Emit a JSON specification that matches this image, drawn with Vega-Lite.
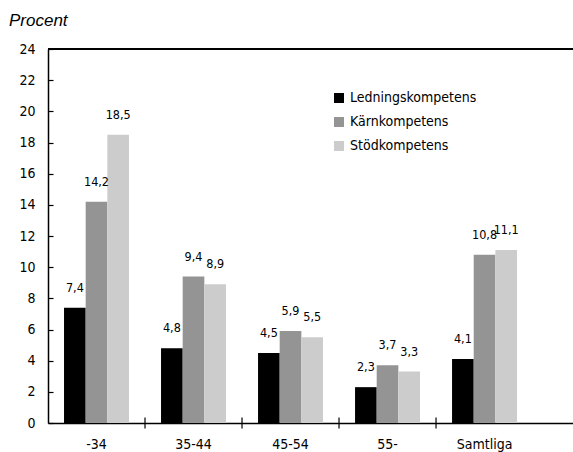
{
  "$schema": "https://vega.github.io/schema/vega-lite/v6.json",
  "width": 525,
  "height": 374,
  "autosize": {"type": "none"},
  "padding": {"left": 48, "top": 49, "right": 0, "bottom": 29},
  "title": {"text": "Procent", "anchor": "start", "frame": "group", "dx": -39, "offset": -1, "baseline": "alphabetic", "font": "Liberation Sans", "fontStyle": "italic", "fontWeight": "normal", "fontSize": 17, "color": "#000000"},
  "config": {
    "locale": {"number": {"decimal": ",", "thousands": " ", "grouping": [3], "currency": ["", ""]}},
    "view": {"stroke": null},
    "font": "DejaVu Sans Condensed",
    "axisY": {"title": null, "values": [0, 2, 4, 6, 8, 10, 12, 14, 16, 18, 20, 22, 24], "labelOverlap": false, "grid": false, "domainColor": "#000000", "domainWidth": 1.5, "tickColor": "#000000", "tickWidth": 1.2, "tickSize": -5, "labelColor": "#000000", "labelFontSize": 14, "labelPadding": 18}
  },
  "data": {
    "values": [
      {"grupp": "-34", "kompetens": "Ledningskompetens", "procent": 7.4},
      {"grupp": "-34", "kompetens": "Kärnkompetens", "procent": 14.2},
      {"grupp": "-34", "kompetens": "Stödkompetens", "procent": 18.5},
      {"grupp": "35-44", "kompetens": "Ledningskompetens", "procent": 4.8},
      {"grupp": "35-44", "kompetens": "Kärnkompetens", "procent": 9.4},
      {"grupp": "35-44", "kompetens": "Stödkompetens", "procent": 8.9},
      {"grupp": "45-54", "kompetens": "Ledningskompetens", "procent": 4.5},
      {"grupp": "45-54", "kompetens": "Kärnkompetens", "procent": 5.9},
      {"grupp": "45-54", "kompetens": "Stödkompetens", "procent": 5.5},
      {"grupp": "55-", "kompetens": "Ledningskompetens", "procent": 2.3},
      {"grupp": "55-", "kompetens": "Kärnkompetens", "procent": 3.7},
      {"grupp": "55-", "kompetens": "Stödkompetens", "procent": 3.3},
      {"grupp": "Samtliga", "kompetens": "Ledningskompetens", "procent": 4.1},
      {"grupp": "Samtliga", "kompetens": "Kärnkompetens", "procent": 10.8},
      {"grupp": "Samtliga", "kompetens": "Stödkompetens", "procent": 11.1}
    ]
  },
  "layer": [
    {
      "mark": {"type": "bar"},
      "encoding": {
        "x": {"field": "grupp", "type": "nominal", "sort": ["-34", "35-44", "45-54", "55-", "Samtliga"],
          "scale": {"paddingInner": 0, "paddingOuter": 0.206, "align": 0},
          "axis": {"title": null, "labelAngle": 0, "ticks": false, "domainColor": "#000000", "domainWidth": 1.5, "labelColor": "#000000", "labelFontSize": 14, "labelPadding": 14}},
        "xOffset": {"field": "kompetens", "type": "nominal", "sort": ["Ledningskompetens", "Kärnkompetens", "Stödkompetens"],
          "scale": {"paddingInner": 0, "paddingOuter": 0.74}},
        "y": {"field": "procent", "type": "quantitative", "scale": {"domain": [0, 24]},
          "axis": {"values": [0, 2, 4, 6, 8, 10, 12, 14, 16, 18, 20, 22, 24]}},
        "color": {"field": "kompetens", "type": "nominal", "sort": ["Ledningskompetens", "Kärnkompetens", "Stödkompetens"],
          "scale": {"domain": ["Ledningskompetens", "Kärnkompetens", "Stödkompetens"], "range": ["#000000", "#949494", "#cccccc"]},
          "legend": {"title": null, "orient": "none", "legendX": 284, "legendY": 42, "symbolType": "square", "symbolSize": 100, "symbolStrokeWidth": 0, "symbolOpacity": 1, "labelFontSize": 14, "labelColor": "#000000", "labelOffset": 4, "rowPadding": 10, "padding": 0}}
      }
    },
    {
      "mark": {"type": "text", "baseline": "bottom", "dy": -13, "fontSize": 12.5, "letterSpacing": -0.8, "color": "#000000"},
      "encoding": {
        "x": {"field": "grupp", "type": "nominal", "sort": ["-34", "35-44", "45-54", "55-", "Samtliga"]},
        "xOffset": {"field": "kompetens", "type": "nominal", "sort": ["Ledningskompetens", "Kärnkompetens", "Stödkompetens"]},
        "y": {"field": "procent", "type": "quantitative", "axis": {"values": [0, 2, 4, 6, 8, 10, 12, 14, 16, 18, 20, 22, 24]}},
        "text": {"field": "procent", "type": "quantitative", "format": ".1f"}
      }
    },
    {
      "transform": [{"filter": "datum.kompetens == 'Ledningskompetens' && datum.grupp != '-34'"}],
      "mark": {"type": "rule", "color": "#000000", "strokeWidth": 1.2},
      "encoding": {
        "x": {"field": "grupp", "type": "nominal", "sort": ["-34", "35-44", "45-54", "55-", "Samtliga"], "bandPosition": 0},
        "y": {"datum": -0.35, "type": "quantitative", "axis": {"values": [0, 2, 4, 6, 8, 10, 12, 14, 16, 18, 20, 22, 24]}},
        "y2": {"datum": 0.35}
      }
    },
    {
      "mark": {"type": "rule", "color": "#000000", "strokeWidth": 1.5},
      "encoding": {"y": {"datum": 24, "type": "quantitative", "axis": {"values": [0, 2, 4, 6, 8, 10, 12, 14, 16, 18, 20, 22, 24]}}}
    }
  ]
}
